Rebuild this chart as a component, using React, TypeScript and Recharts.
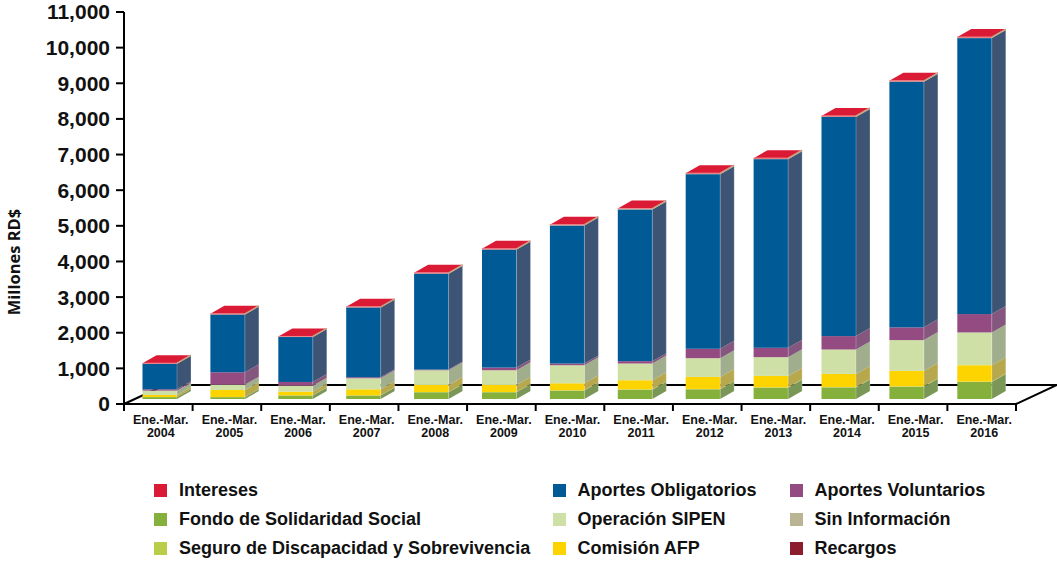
import React from 'react';
import { BarChart, Bar, XAxis, YAxis, Legend, usePlotArea } from 'recharts';

// Valores, en millones RD$
const years = ['2004', '2005', '2006', '2007', '2008', '2009', '2010', '2011', '2012', '2013', '2014', '2015', '2016'];
const fondo = [53, 52, 98, 98, 189, 189, 236, 262, 272, 319, 324, 343, 478];
const seguro = [3, 4, 5, 5, 8, 8, 8, 10, 10, 10, 14, 14, 10];
const comision = [56, 197, 103, 169, 197, 197, 197, 254, 338, 319, 366, 432, 460];
const operacion = [122, 150, 169, 310, 413, 413, 507, 470, 526, 526, 685, 864, 920];
const voluntarios = [38, 347, 103, 28, 19, 75, 47, 66, 263, 263, 376, 357, 516];
const obligatorios = [716, 1622, 1261, 1960, 2691, 3310, 3872, 4257, 4900, 5294, 6149, 6890, 7743];
const sinInformacion = [6, 8, 6, 8, 10, 10, 12, 12, 12, 12, 14, 14, 14];
const recargos = [2, 2, 2, 2, 3, 3, 3, 3, 4, 4, 4, 4, 4];
const intereses = [8, 8, 8, 8, 10, 10, 10, 10, 12, 12, 12, 12, 12];
const yTicks = [0, 1000, 2000, 3000, 4000, 5000, 6000, 7000, 8000, 9000, 10000, 11000];

const data = years.map((year, i) => ({
  year,
  fondo: fondo[i],
  seguro: seguro[i],
  comision: comision[i],
  operacion: operacion[i],
  voluntarios: voluntarios[i],
  obligatorios: obligatorios[i],
  sinInformacion: sinInformacion[i],
  recargos: recargos[i],
  intereses: intereses[i],
}));

// orden de apilado, de abajo hacia arriba
const SERIES = [
  { key: 'fondo', name: 'Fondo de Solidaridad Social', color: '#86B03C', side: '#7B9758' },
  { key: 'seguro', name: 'Seguro de Discapacidad y Sobrevivencia', color: '#BACD4A', side: '#9AA850' },
  { key: 'comision', name: 'Comisión AFP', color: '#FDD400', side: '#B8A84D' },
  { key: 'operacion', name: 'Operación SIPEN', color: '#CFE0A7', side: '#A0AE8D' },
  { key: 'voluntarios', name: 'Aportes Voluntarios', color: '#944B82', side: '#85577F' },
  { key: 'obligatorios', name: 'Aportes Obligatorios', color: '#005A96', side: '#3D5475' },
  { key: 'sinInformacion', name: 'Sin Información', color: '#B9B491', side: '#B9B491' },
  { key: 'recargos', name: 'Recargos', color: '#8B1D2E', side: '#8B1D2E' },
  { key: 'intereses', name: 'Intereses', color: '#DB1A35', side: '#C9A080' },
];

const LEGEND_ORDER = [
  'intereses', 'obligatorios', 'voluntarios',
  'fondo', 'operacion', 'sinInformacion',
  'seguro', 'comision', 'recargos',
];

const FONT = '"Liberation Sans", Arial, sans-serif';
const WIDTH = 1057;
const HEIGHT = 561;
const MARGIN_RIGHT = 41;
const Y_AXIS_WIDTH = 124;
const DEPTH_X = 14;
const DEPTH_Y = 8;
const LIFT = 5; // las barras se apoyan dentro del piso
const FLOOR_X = 41;
const FLOOR_Y = 19;
const BAND = (WIDTH - MARGIN_RIGHT - Y_AXIS_WIDTH) / years.length;

const Box3D = (props: any) => {
  const { x, y, width, height, fill, side, isTop } = props;
  const top = y - LIFT;
  const right = x + width;
  const bottom = top + height;
  return (
    <g>
      <polygon
        points={`${right},${top} ${right + DEPTH_X},${top - DEPTH_Y} ${right + DEPTH_X},${bottom - DEPTH_Y} ${right},${bottom}`}
        fill={side}
      />
      <rect x={x} y={top} width={width} height={height} fill={fill} />
      <line x1={right} y1={top} x2={right} y2={bottom} stroke="#fff" strokeOpacity={0.3} strokeWidth={0.8} />
      <line x1={right + DEPTH_X} y1={top - DEPTH_Y} x2={right + DEPTH_X} y2={bottom - DEPTH_Y} stroke="#fff" strokeOpacity={0.3} strokeWidth={0.8} />
      {isTop && (
        <g>
          <polygon
            points={`${x},${top} ${right},${top} ${right + DEPTH_X},${top - DEPTH_Y} ${x + DEPTH_X},${top - DEPTH_Y}`}
            fill={fill}
          />
          <line x1={x} y1={top} x2={right} y2={top} stroke="#F08A90" strokeWidth={1} />
          <line x1={right} y1={top} x2={right + DEPTH_X} y2={top - DEPTH_Y} stroke="#C9A080" strokeWidth={1.4} />
        </g>
      )}
    </g>
  );
};

const Floor = () => {
  const plot = usePlotArea();
  if (!plot) return null;
  const y0 = plot.y + plot.height;
  const x0 = plot.x;
  const x1 = plot.x + plot.width;
  return (
    <polyline
      points={`${x0},${y0} ${x0 + FLOOR_X},${y0 - FLOOR_Y} ${x1 + FLOOR_X},${y0 - FLOOR_Y} ${x1},${y0}`}
      fill="none"
      stroke="#000"
      strokeWidth={2}
    />
  );
};

const YearTick = (props: any) => {
  const { x, y, payload, index } = props;
  const left = x - BAND / 2;
  // y llega ya desplazado por tickSize + tickMargin (8px)
  const axisY = y - 8;
  return (
    <g>
      <line x1={left} y1={axisY} x2={left} y2={axisY + 7} stroke="#000" strokeWidth={2} />
      {index === years.length - 1 && (
        <line x1={left + BAND} y1={axisY} x2={left + BAND} y2={axisY + 7} stroke="#000" strokeWidth={2} />
      )}
      <text x={x + 2.5} y={axisY + 20} textAnchor="middle" fontFamily={FONT} fontWeight="bold" fontSize={12.5} fill="#111">
        <tspan x={x + 2.5}>Ene.-Mar.</tspan>
        <tspan x={x + 2.5} dy={13}>{payload.value}</tspan>
      </text>
    </g>
  );
};

const LegendGrid = () => (
  <div
    style={{
      display: 'grid',
      gridTemplateColumns: '398.5px 237px 230px',
      gridAutoRows: '29px',
      marginLeft: 154,
      fontFamily: FONT,
      fontWeight: 'bold',
      fontSize: 18,
      color: '#111',
    }}
  >
    {LEGEND_ORDER.map((key) => {
      const s = SERIES.find((item) => item.key === key)!;
      return (
        <div key={key} style={{ display: 'flex', alignItems: 'center', whiteSpace: 'nowrap' }}>
          <span style={{ width: 13, height: 13, background: s.color, marginRight: 12, flex: 'none' }} />
          {s.name}
        </div>
      );
    })}
  </div>
);

export default function App() {
  return (
    <div style={{ position: 'absolute', left: 0, top: 0 }}>
      <BarChart
        width={WIDTH}
        height={HEIGHT}
        data={data}
        barSize={34.5}
        margin={{ top: 12, right: MARGIN_RIGHT, bottom: 0, left: 0 }}
      >
        <XAxis
          dataKey="year"
          height={72}
          axisLine={{ stroke: '#000', strokeWidth: 2 }}
          tickLine={false}
          tick={<YearTick />}
          interval={0}
        />
        <XAxis dataKey="year" xAxisId="bars" hide padding={{ left: 1.5, right: 7.8 }} />
        <YAxis
          width={Y_AXIS_WIDTH}
          domain={[0, 11000]}
          ticks={yTicks}
          interval={0}
          tickFormatter={(v: number) => v.toLocaleString('en-US')}
          axisLine={{ stroke: '#000', strokeWidth: 2 }}
          tickLine={{ stroke: '#000', strokeWidth: 2 }}
          tickSize={8}
          tickMargin={6}
          tick={{ fontFamily: FONT, fontWeight: 'bold', fontSize: 21, fill: '#111' }}
          label={{
            value: 'Millones RD$',
            angle: -90,
            position: 'insideLeft',
            dx: 9,
            dy: 54,
            style: { fontFamily: '"Open Sans"', fontWeight: 700, fontSize: 16.5, fill: '#111', textAnchor: 'middle' },
          }}
        />
        <Floor />
        {SERIES.map((s, i) => (
          <Bar
            key={s.key}
            dataKey={s.key}
            name={s.name}
            xAxisId="bars"
            stackId="total"
            fill={s.color}
            isAnimationActive={false}
            shape={(p: any) => <Box3D {...p} fill={s.color} side={s.side} isTop={i === SERIES.length - 1} />}
          />
        ))}
        <Legend
          verticalAlign="bottom"
          height={85}
          content={<LegendGrid />}
          wrapperStyle={{ left: 0, bottom: 0, width: WIDTH }}
        />
      </BarChart>
    </div>
  );
}
